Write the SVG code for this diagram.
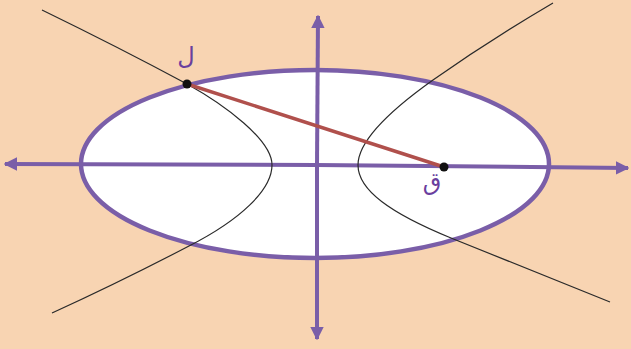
<svg xmlns="http://www.w3.org/2000/svg" width="631" height="349" viewBox="0 0 631 349">
<style>
.axis{stroke:#7a5ea8;stroke-width:4;fill:none}
.hyp{stroke:#2a2a2a;stroke-width:1.2;fill:none}
.seg{stroke:#b0504c;stroke-width:3.5;stroke-linecap:round}
.lbl{font-family:"DejaVu Sans","Noto Sans",sans-serif;font-size:24px;fill:#6a3f9e;text-anchor:middle}
.pt{fill:#111}
</style>
<defs>
<marker id="ah" viewBox="0 0 10 10" refX="9" refY="5" markerWidth="3.4" markerHeight="3.4" orient="auto" markerUnits="strokeWidth">
<path d="M0,0 L10,5 L0,10 Z" fill="#7a5ea8"/>
</marker>
</defs>
<rect x="0" y="0" width="631" height="349" fill="#f8d4b2"/>
<g id="ellipse">
<ellipse cx="315" cy="164" rx="234" ry="94" fill="#ffffff" stroke="#7a5ea8" stroke-width="4.5"/>
</g>
<g id="connectors">
<line class="axis" x1="316" y1="165" x2="5" y2="164" marker-end="url(#ah)"/>
<line class="axis" x1="316" y1="165" x2="628" y2="168" marker-end="url(#ah)"/>
<line class="axis" x1="317" y1="165" x2="318" y2="16" marker-end="url(#ah)"/>
<line class="axis" x1="317" y1="165" x2="317" y2="339" marker-end="url(#ah)"/>
<path class="hyp" d="M42,10 Q120,48 187,84 C225,105 272,140 272,165 C272,190 240,220 189,246 Q120,282 52,313"/>
<path class="hyp" d="M553,3 Q490,40 433,80 C395,107 358,140 358,165 C358,190 390,213 451,238 Q530,270 610,302"/>
<line class="seg" x1="187" y1="84" x2="444" y2="167"/>
</g>
<g id="pointL">
<circle class="pt" cx="187" cy="84" r="4.5"/>
<text class="lbl" x="186" y="64">ل</text>
</g>
<g id="pointQ">
<circle class="pt" cx="444" cy="167" r="4.5"/>
<text class="lbl" x="432" y="190">ق</text>
</g>
</svg>
